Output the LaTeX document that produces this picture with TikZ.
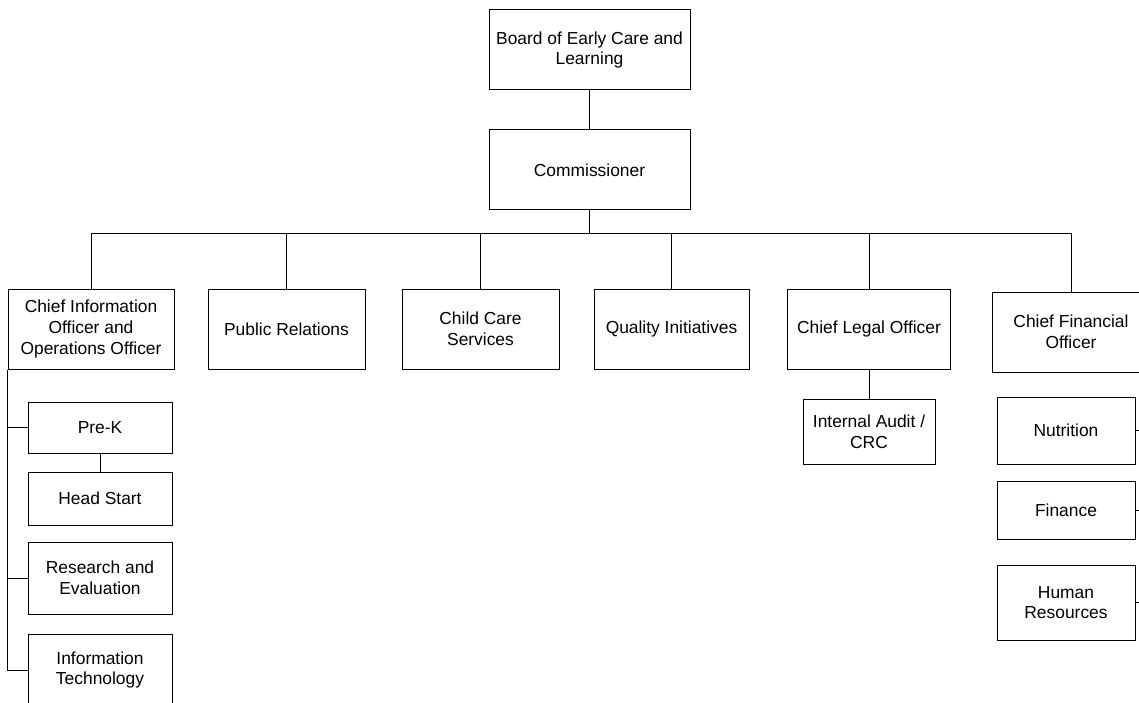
\documentclass[tikz,border=0pt]{standalone}
\usepackage{fontspec}
\setmainfont{Liberation Sans}
\usetikzlibrary{positioning}
\definecolor{orgblack}{HTML}{000000}

\tikzset{
  orgbox/.style={draw=orgblack,line width=1pt,align=center,inner sep=0pt,
    font=\fontsize{17.4}{20.8}\selectfont},
  orgline/.style={draw=orgblack,line width=1pt}
}

\begin{document}
\begin{tikzpicture}[x=1pt,y=-1pt]

  % ---- page frame ------------------------------------------------
  \useasboundingbox (0,0) rectangle (1139,703);

  % ---- top of the chart -------------------------------------------
  \node[orgbox,minimum width=201,minimum height=80] (board) at (589.5,50)
    {Board of Early Care and\\Learning};
  \node[orgbox,minimum width=201,minimum height=80] (comm) at (589.5,170)
    {Commissioner};
  \coordinate (bus) at (589.5,234);

  % ---- second row ---------------------------------------------------
  \node[orgbox,minimum width=166,minimum height=80] (cio) at (91,329)
    {Chief Information\\Officer and\\Operations Officer};
  \node[orgbox,minimum width=157,minimum height=80] (pr) at (286.5,329)
    {Public Relations};
  \node[orgbox,minimum width=157,minimum height=80] (ccs) at (480.5,329)
    {Child Care\\Services};
  \node[orgbox,minimum width=155,minimum height=80] (qi) at (671.5,329)
    {Quality Initiatives};
  \node[orgbox,minimum width=163,minimum height=80] (clo) at (869,329)
    {Chief Legal Officer};
  \node[orgbox,minimum width=158,minimum height=80] (cfo) at (1071,332)
    {Chief Financial\\Officer};

  % ---- under the CIO --------------------------------------------------
  \node[orgbox,minimum width=144,minimum height=51] (prek) at (100,427.5)
    {Pre-K};
  \node[orgbox,minimum width=144,minimum height=53] (hs) at (100,498.5)
    {Head Start};
  \node[orgbox,minimum width=144,minimum height=72] (re) at (100,578)
    {Research and\\Evaluation};
  \node[orgbox,minimum width=144,minimum height=72] (it) at (100,670)
    {Information\\Technology};

  % ---- under the legal officer ------------------------------------------
  \node[orgbox,minimum width=132,minimum height=65] (audit) at (869,431.5)
    {Internal Audit /\\CRC};

  % ---- under the CFO --------------------------------------------------
  \node[orgbox,minimum width=138,minimum height=67] (nutr) at (1066,430.5)
    {Nutrition};
  \node[orgbox,minimum width=138,minimum height=58] (fin) at (1066,510)
    {Finance};
  \node[orgbox,minimum width=138,minimum height=75] (hr) at (1066,602.5)
    {Human\\Resources};

  % ---- connectors --------------------------------------------------
  \draw[orgline] (board) -- (comm);
  \draw[orgline] (comm) -- (bus);
  \foreach \k in {cio,pr,ccs,qi,clo,cfo}
    \draw[orgline] (bus) -| (\k.north);

  \draw[orgline] (cio.south west) |- (it.west);
  \draw[orgline] (cio.south west) |- (prek.west);
  \draw[orgline] (cio.south west) |- (re.west);
  \draw[orgline] (prek) -- (hs);

  \draw[orgline] (clo) -- (audit);

  \draw[orgline] (cfo.south east) |- (nutr.east);
  \draw[orgline] (cfo.south east) |- (fin.east);
  \draw[orgline] (cfo.south east) |- (hr.east);

\end{tikzpicture}
\end{document}
